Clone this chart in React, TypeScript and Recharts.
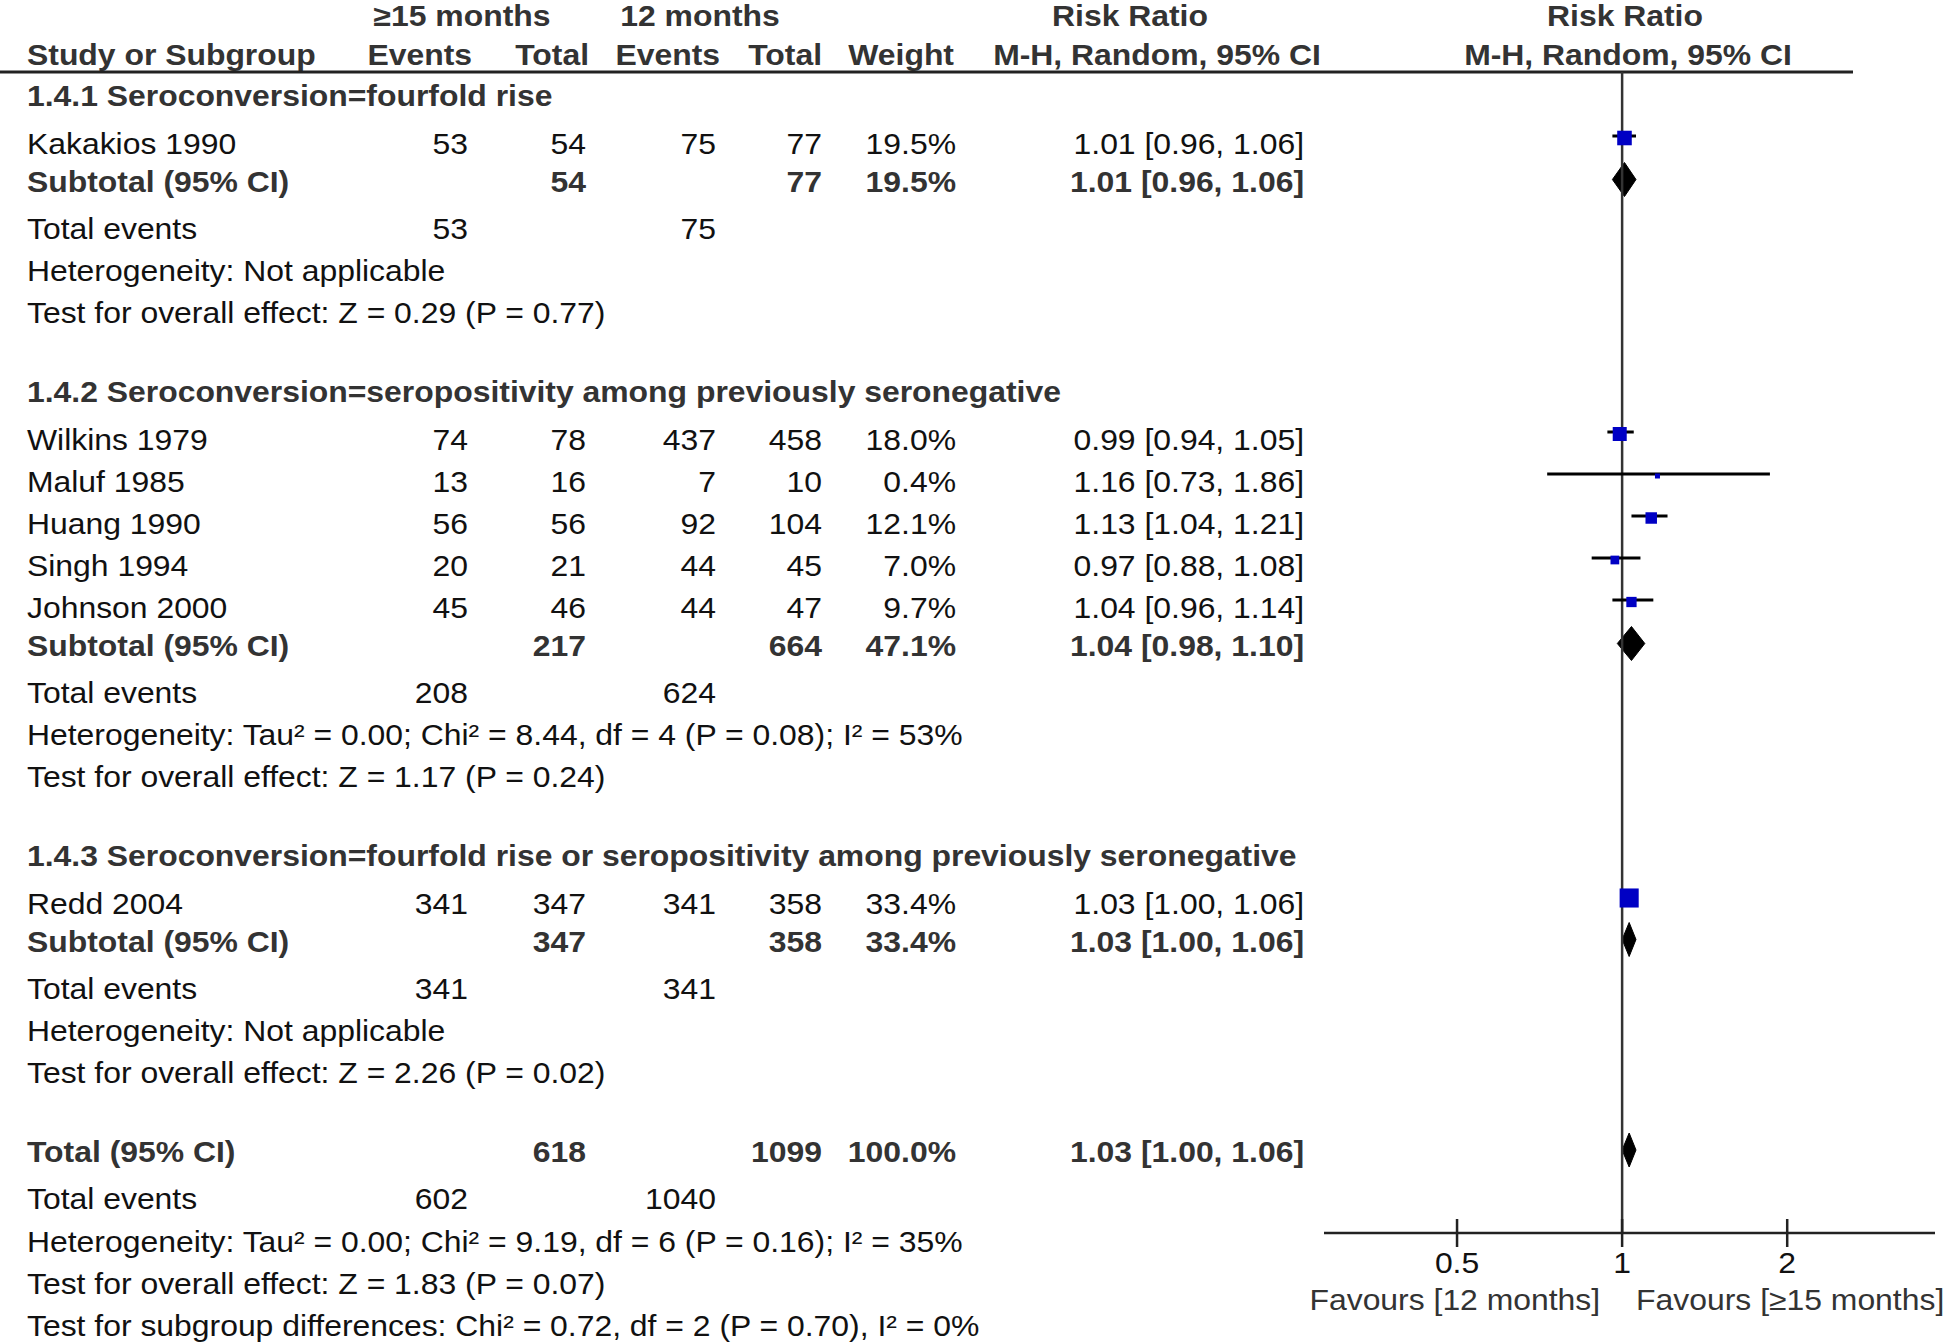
import React from "react";
import { ComposedChart, XAxis, YAxis, Scatter, Area, ReferenceLine } from "recharts";

// ---- data ----
const groupTitles = [
  "1.4.1 Seroconversion=fourfold rise",
  "1.4.2 Seroconversion=seropositivity among previously seronegative",
  "1.4.3 Seroconversion=fourfold rise or seropositivity among previously seronegative",
];

const studyNames = ["Kakakios 1990", "Wilkins 1979", "Maluf 1985", "Huang 1990", "Singh 1994", "Johnson 2000", "Redd 2004"];
const studyGroup = [0, 1, 1, 1, 1, 1, 2];
const events15 = [53, 74, 13, 56, 20, 45, 341];
const total15 = [54, 78, 16, 56, 21, 46, 347];
const events12 = [75, 437, 7, 92, 44, 44, 341];
const total12 = [77, 458, 10, 104, 45, 47, 358];
const weights = [19.5, 18.0, 0.4, 12.1, 7.0, 9.7, 33.4];
const rr = [1.01, 0.99, 1.16, 1.13, 0.97, 1.04, 1.03];
const rrLow = [0.96, 0.94, 0.73, 1.04, 0.88, 0.96, 1.0];
const rrHigh = [1.06, 1.05, 1.86, 1.21, 1.08, 1.14, 1.06];

const subTotal15 = [54, 217, 347];
const subTotal12 = [77, 664, 358];
const subEvents15 = [53, 208, 341];
const subEvents12 = [75, 624, 341];
const subWeight = [19.5, 47.1, 33.4];
const subRR = [1.01, 1.04, 1.03];
const subLow = [0.96, 0.98, 1.0];
const subHigh = [1.06, 1.1, 1.06];
const subHet = [
  "Heterogeneity: Not applicable",
  "Heterogeneity: Tau² = 0.00; Chi² = 8.44, df = 4 (P = 0.08); I² = 53%",
  "Heterogeneity: Not applicable",
];
const subTest = [
  "Test for overall effect: Z = 0.29 (P = 0.77)",
  "Test for overall effect: Z = 1.17 (P = 0.24)",
  "Test for overall effect: Z = 2.26 (P = 0.02)",
];

const overallTotals = [618, 1099];
const overallEvents = [602, 1040];
const overallWeight = 100.0;
const overallRR = [1.03, 1.0, 1.06];
const overallHet = "Heterogeneity: Tau² = 0.00; Chi² = 9.19, df = 6 (P = 0.16); I² = 35%";
const overallTest = "Test for overall effect: Z = 1.83 (P = 0.07)";
const subgroupTest = "Test for subgroup differences: Chi² = 0.72, df = 2 (P = 0.70), I² = 0%";

const axisTicks = [0.5, 1, 2];
const favoursLeft = "Favours [12 months]";
const favoursRight = "Favours [≥15 months]";

// ---- layout ----
const W = 1947;
const H = 1344;
const FONT = "'Liberation Sans', Arial, Helvetica, sans-serif";
const FS = 29;
const SX = 1.1; // the source text is drawn a bit wide
const X_MIN = 0.286;
const X_MAX = 3.72;
const PLOT_TOP = 72;
const AXIS_Y = 1233;
const PLOT_LEFT = 1324;
const PLOT_RIGHT = 1935;
const COL = { name: 27, ev15: 468, tot15: 586, ev12: 716, tot12: 822, weight: 956, ci: 1304 };

const fmtCI = (r: number, l: number, h: number) => `${r.toFixed(2)} [${l.toFixed(2)}, ${h.toFixed(2)}]`;
const fmtW = (w: number) => `${w.toFixed(1)}%`;

function T({ x, y, children, anchor = "start", bold = false, fill }: any) {
  return (
    <text
      transform={`translate(${x},${y}) scale(${SX},1)`}
      textAnchor={anchor}
      dominantBaseline="central"
      fontFamily={FONT}
      fontSize={FS}
      fontWeight={bold ? 700 : 400}
      fill={fill ?? (bold ? "#333" : "#111")}
    >
      {children}
    </text>
  );
}

type Row = { kind: string; idx: number; y: number };

function buildRows(): Row[] {
  const rows: Row[] = [];
  let y = 96;
  groupTitles.forEach((_, g) => {
    if (g > 0) y += 79;
    rows.push({ kind: "heading", idx: g, y });
    const members = studyGroup.map((gg, i) => (gg === g ? i : -1)).filter((i) => i >= 0);
    members.forEach((i, k) => {
      y += k === 0 ? 48 : 42;
      rows.push({ kind: "study", idx: i, y });
    });
    y += 37.5;
    rows.push({ kind: "subtotal", idx: g, y });
    y += 47;
    rows.push({ kind: "events", idx: g, y });
    y += 42.5;
    rows.push({ kind: "het", idx: g, y });
    y += 42;
    rows.push({ kind: "test", idx: g, y });
  });
  y += 79;
  rows.push({ kind: "total", idx: 0, y });
  y += 47;
  rows.push({ kind: "totalEvents", idx: 0, y });
  y += 42.5;
  rows.push({ kind: "totalHet", idx: 0, y });
  y += 42;
  rows.push({ kind: "totalTest", idx: 0, y });
  y += 42;
  rows.push({ kind: "diff", idx: 0, y });
  return rows;
}

const rows = buildRows();

function RowText({ r }: { r: Row }) {
  const y = r.y;
  const i = r.idx;
  switch (r.kind) {
    case "heading":
      return <T x={COL.name} y={y} bold>{groupTitles[i]}</T>;
    case "study":
      return (
        <g>
          <T x={COL.name} y={y}>{studyNames[i]}</T>
          <T x={COL.ev15} y={y} anchor="end">{events15[i]}</T>
          <T x={COL.tot15} y={y} anchor="end">{total15[i]}</T>
          <T x={COL.ev12} y={y} anchor="end">{events12[i]}</T>
          <T x={COL.tot12} y={y} anchor="end">{total12[i]}</T>
          <T x={COL.weight} y={y} anchor="end">{fmtW(weights[i])}</T>
          <T x={COL.ci} y={y} anchor="end">{fmtCI(rr[i], rrLow[i], rrHigh[i])}</T>
        </g>
      );
    case "subtotal":
      return (
        <g>
          <T x={COL.name} y={y} bold>Subtotal (95% CI)</T>
          <T x={COL.tot15} y={y} anchor="end" bold>{subTotal15[i]}</T>
          <T x={COL.tot12} y={y} anchor="end" bold>{subTotal12[i]}</T>
          <T x={COL.weight} y={y} anchor="end" bold>{fmtW(subWeight[i])}</T>
          <T x={COL.ci} y={y} anchor="end" bold>{fmtCI(subRR[i], subLow[i], subHigh[i])}</T>
        </g>
      );
    case "events":
      return (
        <g>
          <T x={COL.name} y={y}>Total events</T>
          <T x={COL.ev15} y={y} anchor="end">{subEvents15[i]}</T>
          <T x={COL.ev12} y={y} anchor="end">{subEvents12[i]}</T>
        </g>
      );
    case "het":
      return <T x={COL.name} y={y}>{subHet[i]}</T>;
    case "test":
      return <T x={COL.name} y={y}>{subTest[i]}</T>;
    case "total":
      return (
        <g>
          <T x={COL.name} y={y} bold>Total (95% CI)</T>
          <T x={COL.tot15} y={y} anchor="end" bold>{overallTotals[0]}</T>
          <T x={COL.tot12} y={y} anchor="end" bold>{overallTotals[1]}</T>
          <T x={COL.weight} y={y} anchor="end" bold>{fmtW(overallWeight)}</T>
          <T x={COL.ci} y={y} anchor="end" bold>{fmtCI(overallRR[0], overallRR[1], overallRR[2])}</T>
        </g>
      );
    case "totalEvents":
      return (
        <g>
          <T x={COL.name} y={y}>Total events</T>
          <T x={COL.ev15} y={y} anchor="end">{overallEvents[0]}</T>
          <T x={COL.ev12} y={y} anchor="end">{overallEvents[1]}</T>
        </g>
      );
    case "totalHet":
      return <T x={COL.name} y={y}>{overallHet}</T>;
    case "totalTest":
      return <T x={COL.name} y={y}>{overallTest}</T>;
    case "diff":
      return <T x={COL.name} y={y}>{subgroupTest}</T>;
  }
  return null;
}

// forest marks
const studyPts = rows
  .filter((r) => r.kind === "study")
  .map((r) => ({ x: rr[r.idx], y: r.y - 8, w: weights[r.idx], lo: rrLow[r.idx], hi: rrHigh[r.idx] }));

const diamonds = rows
  .filter((r) => r.kind === "subtotal" || r.kind === "total")
  .map((r) =>
    r.kind === "subtotal"
      ? { x: subRR[r.idx], lo: subLow[r.idx], hi: subHigh[r.idx], y: r.y - 2 }
      : { x: overallRR[0], lo: overallRR[1], hi: overallRR[2], y: r.y - 2 }
  );

const DIAMOND_HALF = 17;

function SquareShape(props: any) {
  const { cx, cy, payload } = props;
  const s = Math.max(5, 3.3 * Math.sqrt(payload.w));
  return <rect x={cx - s / 2} y={cy - s / 2 + 2} width={s} height={s} fill="#0000c4" />;
}

function AxisTick(props: any) {
  const { x, y, payload } = props;
  const axisY = y - 14;
  return (
    <g>
      <line x1={x} x2={x} y1={axisY - 14} y2={axisY + 14} stroke="#222" strokeWidth={2.5} />
      <T x={x} y={axisY + 30} anchor="middle" fill="#111">{payload.value}</T>
    </g>
  );
}

function FavoursLabel(props: any) {
  const vb = props.viewBox || { x: PLOT_LEFT, y: AXIS_Y, width: PLOT_RIGHT - PLOT_LEFT };
  const cx = vb.x + (vb.width * Math.log(1 / X_MIN)) / Math.log(X_MAX / X_MIN);
  const y = vb.y + 67;
  return (
    <g>
      <T x={cx - 22} y={y} anchor="end" fill="#333">{favoursLeft}</T>
      <T x={cx + 14} y={y} fill="#333">{favoursRight}</T>
    </g>
  );
}

export default function App() {
  return (
    <div style={{ position: "absolute", left: 0, top: 0, width: W, height: H, background: "#fff" }}>
      <svg width={W} height={H} style={{ position: "absolute", left: 0, top: 0 }}>
        <T x={462} y={16} anchor="middle" bold>≥15 months</T>
        <T x={700} y={16} anchor="middle" bold>12 months</T>
        <T x={1130} y={16} anchor="middle" bold>Risk Ratio</T>
        <T x={1625} y={16} anchor="middle" bold>Risk Ratio</T>
        <T x={COL.name} y={55} bold>Study or Subgroup</T>
        <T x={472} y={55} anchor="end" bold>Events</T>
        <T x={589} y={55} anchor="end" bold>Total</T>
        <T x={720} y={55} anchor="end" bold>Events</T>
        <T x={822} y={55} anchor="end" bold>Total</T>
        <T x={954} y={55} anchor="end" bold>Weight</T>
        <T x={1157} y={55} anchor="middle" bold>M-H, Random, 95% CI</T>
        <T x={1628} y={55} anchor="middle" bold>M-H, Random, 95% CI</T>
        <line x1={0} x2={1853} y1={PLOT_TOP} y2={PLOT_TOP} stroke="#222" strokeWidth={3} />
        {rows.map((r, k) => (
          <RowText key={k} r={r} />
        ))}
      </svg>
      <div style={{ position: "absolute", left: 0, top: 0 }}>
        <ComposedChart
          width={W}
          height={H}
          margin={{ top: PLOT_TOP, right: W - PLOT_RIGHT, bottom: H - AXIS_Y - 100, left: PLOT_LEFT }}
        >
          <XAxis
            type="number"
            dataKey="x"
            scale="log"
            domain={[X_MIN, X_MAX]}
            allowDataOverflow
            ticks={axisTicks}
            height={100}
            tickSize={14}
            tickMargin={0}
            tickLine={false}
            axisLine={{ stroke: "#222", strokeWidth: 2.5 }}
            tick={AxisTick}
            interval={0}
            label={(p: any) => <FavoursLabel {...p} />}
          />
          <YAxis type="number" dataKey="y" domain={[PLOT_TOP, AXIS_Y]} reversed hide allowDataOverflow />
          <ReferenceLine x={1} stroke="#333" strokeWidth={2.5} />
          {studyPts.map((p, i) => (
            <ReferenceLine
              key={"ci" + i}
              segment={[
                { x: p.lo, y: p.y },
                { x: p.hi, y: p.y },
              ]}
              stroke="#000"
              strokeWidth={3}
              ifOverflow="visible"
            />
          ))}
          <Scatter data={studyPts} shape={SquareShape} isAnimationActive={false} />
          {diamonds.map((d, i) => (
            <Area
              key={"dm" + i}
              data={[
                { x: d.lo, band: [d.y, d.y] },
                { x: d.x, band: [d.y - DIAMOND_HALF, d.y + DIAMOND_HALF] },
                { x: d.hi, band: [d.y, d.y] },
              ]}
              dataKey="band"
              type="linear"
              stroke="#000"
              strokeWidth={1}
              fill="#000"
              fillOpacity={1}
              dot={false}
              activeDot={false}
              isAnimationActive={false}
            />
          ))}
        </ComposedChart>
      </div>
    </div>
  );
}
